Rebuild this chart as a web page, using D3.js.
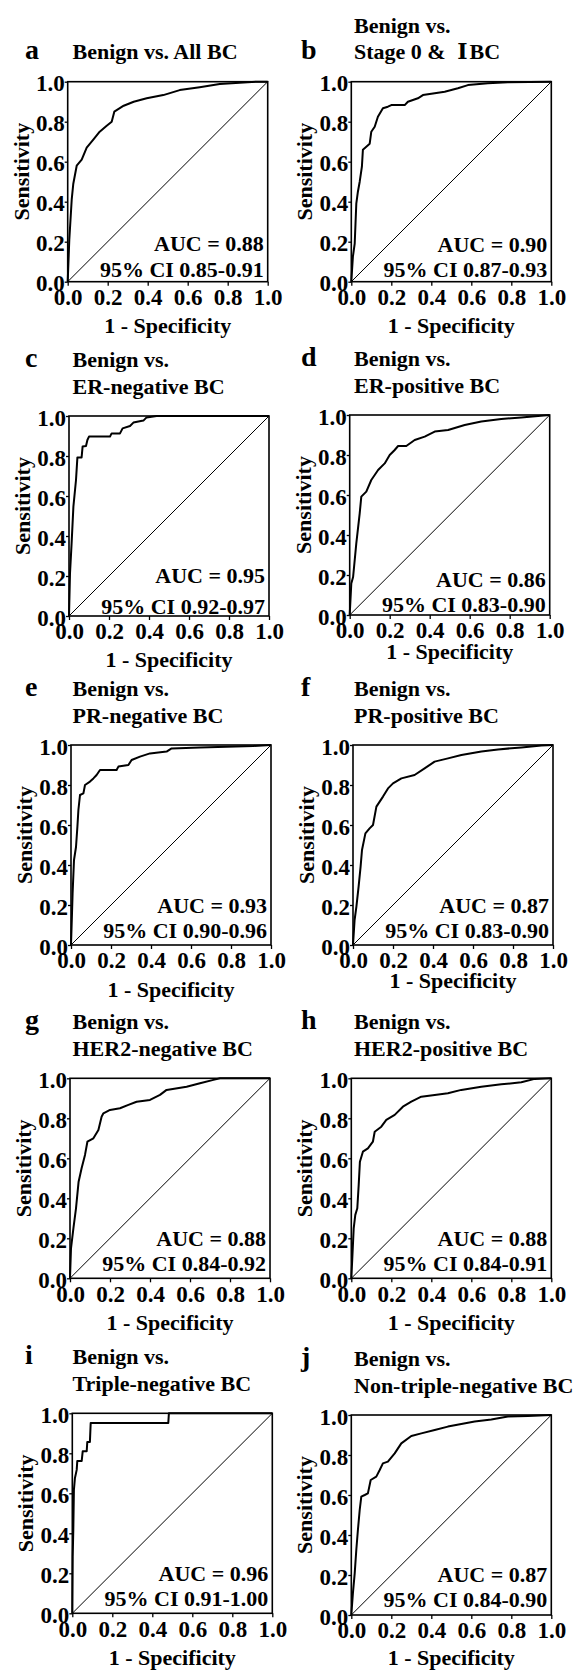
<!DOCTYPE html>
<html lang="en">
<head>
<meta charset="UTF-8">
<title>ROC curves</title>
<script src="https://d3js.org/d3.v7.min.js"></script>
<style>
  body { margin: 0; background: #fff; }
  svg { display: block; background: #fff; }
  text { font-family: "Liberation Serif", "Times New Roman", serif; font-weight: bold; fill: #000; }
  .roman { font-family: "DejaVu Serif", "Liberation Serif", serif; }
</style>
</head>
<body>
<svg id="chart" width="578" height="1671"></svg>
<script>
// ---- data ----
const panelLetters = ["a", "b", "c", "d", "e", "f", "g", "h", "i", "j"];
const titleLine1 = ["", "Benign vs.", "Benign vs.", "Benign vs.", "Benign vs.", "Benign vs.",
  "Benign vs.", "Benign vs.", "Benign vs.", "Benign vs."];
const titleLine2 = ["Benign vs. All BC", "Stage 0 & \u2160BC", "ER-negative BC", "ER-positive BC",
  "PR-negative BC", "PR-positive BC", "HER2-negative BC", "HER2-positive BC",
  "Triple-negative BC", "Non-triple-negative BC"];
const aucValues = ["0.88", "0.90", "0.95", "0.86", "0.93", "0.87", "0.88", "0.88", "0.96", "0.87"];
const ciValues = ["0.85-0.91", "0.87-0.93", "0.92-0.97", "0.83-0.90", "0.90-0.96",
  "0.83-0.90", "0.84-0.92", "0.84-0.91", "0.91-1.00", "0.84-0.90"];
const tickValues = [0, 0.2, 0.4, 0.6, 0.8, 1.0];
const xTitle = "1 - Specificity";
const yTitle = "Sensitivity";

// ROC points: [1 - specificity, sensitivity]
const rocA = [[0,0],[0.008,0.21],[0.02,0.41],[0.028,0.49],[0.045,0.58],[0.07,0.61],[0.095,0.67],
  [0.128,0.71],[0.16,0.75],[0.195,0.78],[0.22,0.80],[0.233,0.85],[0.28,0.88],[0.33,0.90],
  [0.395,0.917],[0.478,0.933],[0.56,0.958],[0.66,0.972],[0.76,0.988],[0.86,0.995],[0.945,1],[1,1]];
const rocB = [[0,0],[0.008,0.125],[0.017,0.19],[0.025,0.39],[0.033,0.45],[0.042,0.5],[0.053,0.575],
  [0.058,0.66],[0.075,0.675],[0.092,0.69],[0.1,0.75],[0.117,0.775],[0.133,0.825],[0.158,0.867],
  [0.183,0.875],[0.2,0.883],[0.267,0.883],[0.283,0.9],[0.333,0.917],[0.358,0.933],[0.417,0.942],
  [0.467,0.95],[0.533,0.967],[0.583,0.983],[0.683,0.992],[0.783,0.997],[1,1]];
const rocC = [[0,0],[0.005,0.213],[0.013,0.363],[0.022,0.547],[0.035,0.68],[0.042,0.793],[0.063,0.793],
  [0.068,0.847],[0.085,0.85],[0.092,0.88],[0.1,0.897],[0.205,0.897],[0.213,0.913],[0.255,0.913],
  [0.268,0.938],[0.305,0.95],[0.322,0.967],[0.372,0.977],[0.388,0.993],[0.438,1],[1,1]];
const rocD = [[0,0],[0.008,0.158],[0.017,0.19],[0.033,0.358],[0.05,0.508],[0.058,0.592],[0.083,0.617],
  [0.108,0.675],[0.142,0.725],[0.175,0.758],[0.2,0.8],[0.225,0.825],[0.242,0.845],[0.283,0.845],
  [0.325,0.875],[0.375,0.892],[0.425,0.917],[0.492,0.925],[0.575,0.95],[0.658,0.967],[0.758,0.98],
  [0.858,0.988],[0.942,0.995],[1,1]];
const rocE = [[0,0],[0.005,0.158],[0.008,0.258],[0.015,0.425],[0.025,0.49],[0.032,0.592],[0.037,0.675],
  [0.045,0.75],[0.062,0.758],[0.07,0.8],[0.095,0.817],[0.112,0.833],[0.128,0.85],[0.145,0.875],
  [0.228,0.875],[0.237,0.892],[0.287,0.9],[0.303,0.925],[0.345,0.942],[0.395,0.958],[0.478,0.967],
  [0.503,0.983],[0.645,0.988],[0.912,0.995],[1,1]];
const rocF = [[0,0],[0.008,0.125],[0.017,0.192],[0.028,0.292],[0.038,0.392],[0.045,0.475],[0.062,0.558],
  [0.083,0.583],[0.1,0.6],[0.117,0.692],[0.15,0.742],[0.175,0.783],[0.2,0.808],[0.242,0.833],
  [0.308,0.85],[0.358,0.883],[0.408,0.917],[0.475,0.933],[0.542,0.95],[0.642,0.967],[0.725,0.978],
  [0.842,0.988],[0.942,0.997],[1,1]];
const rocG = [[0,0],[0.005,0.15],[0.017,0.25],[0.03,0.35],[0.043,0.483],[0.058,0.55],[0.075,0.617],
  [0.087,0.683],[0.117,0.7],[0.142,0.742],[0.158,0.808],[0.167,0.825],[0.2,0.842],[0.25,0.85],
  [0.292,0.867],[0.333,0.883],[0.4,0.892],[0.45,0.917],[0.483,0.942],[0.583,0.958],[0.65,0.975],
  [0.717,0.992],[0.75,1],[1,1]];
const rocH = [[0,0],[0.005,0.1],[0.012,0.25],[0.02,0.317],[0.03,0.35],[0.037,0.467],[0.043,0.583],
  [0.058,0.633],[0.083,0.65],[0.108,0.683],[0.117,0.733],[0.15,0.758],[0.175,0.792],[0.217,0.817],
  [0.258,0.858],[0.3,0.883],[0.35,0.908],[0.417,0.917],[0.483,0.925],[0.55,0.942],[0.65,0.958],
  [0.75,0.97],[0.85,0.98],[0.917,0.997],[1,1]];
const rocI = [[0,0],[0.002,0.283],[0.005,0.417],[0.008,0.617],[0.013,0.675],[0.022,0.717],[0.025,0.762],
  [0.047,0.762],[0.052,0.81],[0.072,0.81],[0.075,0.857],[0.088,0.857],[0.092,0.952],[0.48,0.952],
  [0.483,1],[1,1]];
const rocJ = [[0,0],[0.008,0.108],[0.017,0.208],[0.025,0.325],[0.033,0.425],[0.042,0.525],[0.05,0.592],
  [0.067,0.6],[0.083,0.608],[0.097,0.675],[0.125,0.692],[0.142,0.725],[0.158,0.758],[0.183,0.767],
  [0.217,0.808],[0.25,0.858],[0.3,0.895],[0.35,0.908],[0.417,0.925],[0.483,0.942],[0.55,0.955],
  [0.617,0.967],[0.7,0.978],[0.783,0.992],[0.883,0.995],[1,1]];
const curves = [rocA, rocB, rocC, rocD, rocE, rocF, rocG, rocH, rocI, rocJ];

// ---- layout (plot box top-left corner per panel) ----
const boxSize = 200;
const boxOrigins = [[67.7, 81.7], [351.3, 81.7], [69, 416], [349.7, 415], [71, 745],
  [353, 745], [70, 1078.3], [351.3, 1078.3], [72.3, 1413.3], [351.3, 1415]];
const xTitleGap = [51, 51, 51, 44, 52, 43, 52, 52, 52, 50];
const aucGap = [[31, 5], [30, 5], [33, 2], [28, 3], [32, 7], [32, 7], [32, 7], [32, 7], [32, 7], [33, 8]];
const fontSize = 22;
const tickFontSize = 23;

const svg = d3.select("#chart");

curves.forEach((points, i) => {
  const [left, top] = boxOrigins[i];
  const col = i % 2;
  const g = svg.append("g").attr("transform", `translate(${left},${top})`);

  const x = d3.scaleLinear().domain([0, 1]).range([0, boxSize]);
  const y = d3.scaleLinear().domain([0, 1]).range([boxSize, 0]);

  // axes
  const xAxis = g.append("g")
    .attr("transform", `translate(0,${boxSize})`)
    .call(d3.axisBottom(x).tickValues(tickValues).tickFormat(d3.format(".1f"))
      .tickSize(4).tickSizeOuter(0).tickPadding(3));
  const yAxis = g.append("g")
    .call(d3.axisLeft(y).tickValues(tickValues).tickFormat(d3.format(".1f"))
      .tickSize(3).tickSizeOuter(0).tickPadding(0));
  [xAxis, yAxis].forEach(ax => {
    ax.select(".domain").remove();
    ax.selectAll("line").attr("stroke", "#000").attr("stroke-width", 1.3);
    ax.selectAll("text")
      .attr("font-family", null)
      .attr("font-size", null)
      .style("font-size", tickFontSize + "px");
  });
  yAxis.selectAll("text").attr("dy", "0.4em");

  // diagonal reference line
  g.append("line")
    .attr("x1", x(0)).attr("y1", y(0))
    .attr("x2", x(1)).attr("y2", y(1))
    .attr("stroke", "#000").attr("stroke-width", 1);

  // ROC curve
  g.append("path")
    .datum(points)
    .attr("fill", "none")
    .attr("stroke", "#000")
    .attr("stroke-width", 2)
    .attr("stroke-linejoin", "round")
    .attr("d", d3.line().x(d => x(d[0])).y(d => y(d[1])));

  // frame
  g.append("rect")
    .attr("width", boxSize).attr("height", boxSize)
    .attr("fill", "none").attr("stroke", "#000").attr("stroke-width", 1.6);

  // AUC text
  g.append("text")
    .attr("x", boxSize - 4).attr("y", boxSize - aucGap[i][0])
    .attr("text-anchor", "end").style("font-size", fontSize + "px")
    .text(`AUC = ${aucValues[i]}`);
  g.append("text")
    .attr("x", boxSize - 4).attr("y", boxSize - aucGap[i][1])
    .attr("text-anchor", "end").style("font-size", fontSize + "px")
    .text(`95% CI ${ciValues[i]}`);

  // axis titles
  g.append("text")
    .attr("x", boxSize / 2).attr("y", boxSize + xTitleGap[i])
    .attr("text-anchor", "middle").style("font-size", fontSize + "px")
    .text(xTitle);
  g.append("text")
    .attr("transform", `translate(-39,${boxSize / 2 - 10}) rotate(-90)`)
    .attr("text-anchor", "middle").style("font-size", fontSize + "px")
    .text(yTitle);

  // panel letter + title
  const letterX = col === 0 ? 25 : 301;
  const titleX = col === 0 ? 72.5 : 354;
  const single = titleLine1[i] === "";
  svg.append("text")
    .attr("x", letterX).attr("y", top - (single || i === 1 ? 22.5 : 49))
    .style("font-size", "28px")
    .text(panelLetters[i]);
  if (!single) {
    svg.append("text")
      .attr("x", titleX).attr("y", top - 49)
      .style("font-size", fontSize + "px")
      .text(titleLine1[i]);
  }
  const line2 = svg.append("text")
    .attr("x", titleX).attr("y", top - 22.5)
    .style("font-size", fontSize + "px");
  // the roman numeral is set in a font that has the glyph, with a wider gap before it
  const parts = titleLine2[i].split("\u2160");
  line2.append("tspan").text(parts[0]);
  if (parts.length > 1) {
    line2.append("tspan").attr("class", "roman").attr("dx", 6).text("\u2160");
    line2.append("tspan").attr("dx", 2).text(parts[1]);
  }
});
</script>
</body>
</html>
